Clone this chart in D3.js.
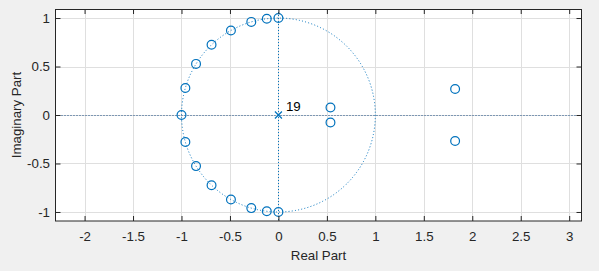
<!DOCTYPE html>
<html>
<head>
<meta charset="utf-8">
<script src="https://cdn.jsdelivr.net/npm/d3@7"></script>
<style>
  html, body { margin: 0; padding: 0; background: #f0f0f0; }
  svg { display: block; }
  text { font-family: "Liberation Sans", Arial, Helvetica, sans-serif; }
</style>
</head>
<body>
<svg id="chart" width="599" height="271"></svg>
<script>
// Zeros (real / imaginary parts)
const zeroRe = [0, -0.12, -0.28, -0.49, -0.69, -0.85, -0.96, -1.0, -0.96, -0.85, -0.69, -0.49, -0.28, -0.12, 0, 0.537, 0.537, 1.823, 1.823];
const zeroIm = [1, 0.993, 0.96, 0.872, 0.724, 0.527, 0.279, 0, -0.279, -0.527, -0.724, -0.872, -0.96, -0.993, -1, 0.078, -0.078, 0.268, -0.268];
// Poles
const poleRe = [0];
const poleIm = [0];
const poleMultiplicity = ["19"];
// Ticks
const xTicks = [-2, -1.5, -1, -0.5, 0, 0.5, 1, 1.5, 2, 2.5, 3];
const yTicks = [-1, -0.5, 0, 0.5, 1];
const xDomain = [-2.3, 3.127];
const yDomain = [-1.093, 1.093];

const svg = d3.select("#chart");
const L = 55.5, R = 581.5, T = 9, B = 221;
const x = d3.scaleLinear().domain(xDomain).range([L, R]);
const y = d3.scaleLinear().domain(yDomain).range([B, T]);

const blue = "#0072BD";
const axisCol = "#262626";
const fs = 13.3;

// axes background
svg.append("rect").attr("x", L).attr("y", T).attr("width", R - L).attr("height", B - T).attr("fill", "#fff");

// grid
const g = svg.append("g").attr("stroke", "#dfdfdf").attr("stroke-width", 1);
xTicks.forEach(t => g.append("line").attr("x1", Math.round(x(t)) + 0.5).attr("x2", Math.round(x(t)) + 0.5).attr("y1", T).attr("y2", B));
yTicks.forEach(t => g.append("line").attr("y1", Math.round(y(t)) + 0.5).attr("y2", Math.round(y(t)) + 0.5).attr("x1", L).attr("x2", R));

// dotted axis lines
svg.append("line").attr("x1", L).attr("x2", R)
  .attr("y1", Math.round(y(0)) + 0.5).attr("y2", Math.round(y(0)) + 0.5)
  .attr("stroke", "#1b4f86").attr("stroke-width", 1).attr("stroke-dasharray", "1,2");
svg.append("line").attr("y1", T).attr("y2", B)
  .attr("x1", Math.round(x(0)) + 0.5).attr("x2", Math.round(x(0)) + 0.5)
  .attr("stroke", blue).attr("stroke-width", 1).attr("stroke-dasharray", "1,2");

// unit circle
svg.append("ellipse").attr("cx", x(0)).attr("cy", y(0))
  .attr("rx", x(1) - x(0)).attr("ry", y(0) - y(1))
  .attr("fill", "none").attr("stroke", blue).attr("stroke-width", 1).attr("stroke-dasharray", "1,2.2");

// zeros
svg.append("g").selectAll("circle").data(zeroRe.map((r, i) => [r, zeroIm[i]])).join("circle")
  .attr("cx", d => x(d[0])).attr("cy", d => y(d[1])).attr("r", 4.4)
  .attr("fill", "none").attr("stroke", blue).attr("stroke-width", 1.2);

// poles
const pg = svg.append("g").attr("stroke", blue).attr("stroke-width", 1.2);
poleRe.forEach((r, i) => {
  const cx = x(r), cy = y(poleIm[i]), s = 3.5;
  pg.append("line").attr("x1", cx - s).attr("y1", cy - s).attr("x2", cx + s).attr("y2", cy + s);
  pg.append("line").attr("x1", cx - s).attr("y1", cy + s).attr("x2", cx + s).attr("y2", cy - s);
  svg.append("text").attr("x", x(r + 0.078)).attr("y", y(poleIm[i] + 0.044))
    .attr("font-size", fs).attr("fill", "#000").text(poleMultiplicity[i]);
});

// axes
const fmt = d => String(d);
function styleAxis(sel) {
  sel.selectAll("path").attr("stroke", axisCol);
  sel.selectAll("line").attr("stroke", axisCol);
  sel.selectAll("text").attr("fill", axisCol).attr("font-size", fs)
     .attr("font-family", "'Liberation Sans', Arial, Helvetica, sans-serif");
}
svg.append("g").attr("transform", `translate(0,${B})`)
  .call(d3.axisBottom(x).tickValues(xTicks).tickFormat(fmt).tickSizeInner(-5).tickSizeOuter(0).tickPadding(11))
  .call(styleAxis);
svg.append("g").attr("transform", `translate(0,${T})`)
  .call(d3.axisTop(x).tickValues(xTicks).tickFormat("").tickSizeInner(-5).tickSizeOuter(0))
  .call(styleAxis);
svg.append("g").attr("transform", `translate(${L},0)`)
  .call(d3.axisLeft(y).tickValues(yTicks).tickFormat(fmt).tickSizeInner(-5).tickSizeOuter(0).tickPadding(5.5))
  .call(styleAxis);
svg.append("g").attr("transform", `translate(${R},0)`)
  .call(d3.axisRight(y).tickValues(yTicks).tickFormat("").tickSizeInner(-5).tickSizeOuter(0))
  .call(styleAxis);
svg.selectAll(".domain").remove();

// box
svg.append("rect").attr("x", L).attr("y", T + 0.5).attr("width", R - L).attr("height", B - T - 0.5)
  .attr("fill", "none").attr("stroke", axisCol).attr("stroke-width", 1);

// labels
svg.append("text").attr("x", (L + R) / 2).attr("y", 260).attr("text-anchor", "middle")
  .attr("font-size", fs).attr("fill", axisCol).text("Real Part");
svg.append("text").attr("transform", `translate(21,${(T + B) / 2}) rotate(-90)`).attr("text-anchor", "middle")
  .attr("font-size", fs).attr("fill", axisCol).text("Imaginary Part");
</script>
</body>
</html>
